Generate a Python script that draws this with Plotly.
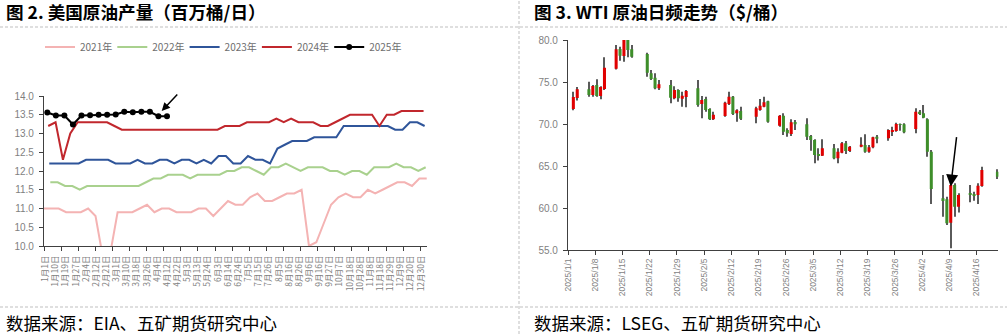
import numpy as np
import pandas as pd
import plotly.graph_objects as go

W, H = 1007, 334

# ---------------- 美国原油周度产量（百万桶/日） ----------------
week_labels = ["1月1日", "1月10日", "1月19日", "1月27日", "2月4日", "2月12日", "2月21日",
               "3月1日", "3月10日", "3月18日", "3月26日", "4月4日", "4月12日", "4月22日",
               "5月3日", "5月13日", "5月24日", "6月3日", "6月14日", "6月24日", "7月5日",
               "7月15日", "7月26日", "8月5日", "8月16日", "8月26日", "9月6日", "9月16日",
               "9月27日", "10月7日", "10月18日", "10月28日", "11月8日", "11月18日",
               "11月29日", "12月9日", "12月20日", "12月30日"]

prod_2021 = [11.0, 11.0, 11.0, 10.9, 10.9, 10.9, 11.0, 10.8, 9.7, 9.8, 10.9, 10.9, 10.9,
             11.0, 11.1, 10.9, 11.0, 11.0, 10.9, 10.9, 10.9, 11.0, 11.0, 10.8, 11.0, 11.2,
             11.1, 11.1, 11.3, 11.4, 11.2, 11.2, 11.3, 11.4, 11.4, 11.5, 10.0, 10.1, 10.6,
             11.1, 11.3, 11.4, 11.3, 11.3, 11.5, 11.4, 11.5, 11.6, 11.7, 11.7, 11.6, 11.8, 11.8]
prod_2022 = [11.7, 11.7, 11.6, 11.6, 11.5, 11.6, 11.6, 11.6, 11.6, 11.6, 11.6, 11.6, 11.6,
             11.7, 11.8, 11.8, 11.9, 11.9, 11.9, 11.8, 11.9, 11.9, 11.9, 11.9, 12.0, 12.0,
             12.1, 12.1, 12.0, 11.9, 12.1, 12.1, 12.2, 12.1, 12.0, 12.1, 12.1, 12.1, 12.0,
             12.0, 11.9, 12.0, 12.0, 11.9, 12.1, 12.1, 12.1, 12.2, 12.1, 12.1, 12.0, 12.1]
prod_2023 = [12.2, 12.2, 12.2, 12.2, 12.2, 12.3, 12.3, 12.3, 12.3, 12.2, 12.2, 12.2, 12.3,
             12.2, 12.2, 12.3, 12.3, 12.2, 12.3, 12.3, 12.2, 12.3, 12.2, 12.4, 12.4, 12.2,
             12.2, 12.4, 12.3, 12.3, 12.2, 12.6, 12.7, 12.8, 12.8, 12.8, 12.9, 12.9, 12.9,
             12.9, 13.2, 13.2, 13.2, 13.2, 13.2, 13.2, 13.2, 13.1, 13.1, 13.3, 13.3, 13.2]
prod_2024 = [13.2, 13.3, 12.3, 13.0, 13.3, 13.3, 13.3, 13.3, 13.3, 13.2, 13.1, 13.1, 13.1,
             13.1, 13.1, 13.1, 13.1, 13.1, 13.1, 13.1, 13.1, 13.1, 13.1, 13.1, 13.2, 13.2,
             13.2, 13.3, 13.3, 13.3, 13.3, 13.4, 13.3, 13.4, 13.3, 13.3, 13.3, 13.2, 13.2,
             13.3, 13.4, 13.5, 13.5, 13.5, 13.5, 13.2, 13.5, 13.5, 13.6, 13.6, 13.6, 13.6]
prod_2025 = [13.56, 13.48, 13.48, 13.24, 13.48, 13.49, 13.50, 13.50, 13.51, 13.58, 13.57,
             13.58, 13.58, 13.46, 13.46]

past_years = ["2021年", "2022年", "2023年", "2024年"]
past_first_week = ["2021-01-01", "2022-01-07", "2023-01-06", "2024-01-05"]
past_values = [prod_2021, prod_2022, prod_2023, prod_2024]
past_colors = ["#F4B3B3", "#A9D18E", "#2F559A", "#C1272D"]

# ---------------- WTI 日K（美元/桶） ----------------
wti_dates = ["2025-01-02", "2025-01-03", "2025-01-06", "2025-01-07", "2025-01-08", "2025-01-09",
             "2025-01-10", "2025-01-13", "2025-01-14", "2025-01-15", "2025-01-16", "2025-01-17",
             "2025-01-21", "2025-01-22", "2025-01-23", "2025-01-24", "2025-01-27", "2025-01-28",
             "2025-01-29", "2025-01-30", "2025-01-31", "2025-02-03", "2025-02-04", "2025-02-05",
             "2025-02-06", "2025-02-07", "2025-02-10", "2025-02-11", "2025-02-12", "2025-02-13",
             "2025-02-14", "2025-02-18", "2025-02-19", "2025-02-20", "2025-02-21", "2025-02-24",
             "2025-02-25", "2025-02-26", "2025-02-27", "2025-02-28", "2025-03-03", "2025-03-04",
             "2025-03-05", "2025-03-06", "2025-03-07", "2025-03-10", "2025-03-11", "2025-03-12",
             "2025-03-13", "2025-03-14", "2025-03-17", "2025-03-18", "2025-03-19", "2025-03-20",
             "2025-03-21", "2025-03-24", "2025-03-25", "2025-03-26", "2025-03-27", "2025-03-28",
             "2025-03-31", "2025-04-01", "2025-04-02", "2025-04-03", "2025-04-04", "2025-04-07",
             "2025-04-08", "2025-04-09", "2025-04-10", "2025-04-11", "2025-04-14", "2025-04-15",
             "2025-04-16", "2025-04-17", "2025-04-21"]
wti_open = [71.80, 73.10, 74.13, 73.45, 74.64, 73.33, 74.17, 76.59, 78.93, 78.10, 80.08, 78.89,
            78.33, 76.03, 75.52, 74.25, 74.64, 73.06, 74.05, 73.02, 73.21, 74.25, 72.38, 72.98,
            71.79, 70.56, 70.95, 72.38, 73.25, 71.27, 71.55, 70.87, 71.67, 72.06, 72.70, 69.80,
            70.99, 69.29, 68.81, 70.24, 69.96, 68.57, 68.10, 66.43, 66.23, 67.10, 65.91, 66.59,
            67.70, 66.79, 67.30, 67.50, 66.71, 67.22, 68.49, 68.29, 69.09, 69.17, 70.00, 69.96,
            69.40, 71.47, 71.27, 70.56, 66.71, 61.15, 61.03, 58.25, 62.74, 60.16, 61.75, 61.67,
            61.55, 62.62, 64.33]
wti_high = [73.85, 74.40, 75.04, 74.64, 75.32, 74.50, 77.94, 79.40, 79.20, 80.60, 80.50, 79.40,
            78.49, 76.43, 76.03, 75.24, 75.24, 74.48, 74.13, 73.85, 74.05, 75.24, 73.33, 73.25,
            71.87, 71.47, 72.66, 73.85, 73.33, 71.75, 72.06, 72.06, 72.98, 73.25, 72.78, 71.07,
            71.27, 69.48, 70.56, 70.48, 70.67, 68.69, 68.17, 67.10, 68.17, 67.62, 67.10, 67.86,
            67.98, 67.38, 68.41, 68.77, 67.50, 68.49, 68.69, 69.37, 69.68, 70.16, 70.05, 70.08,
            71.87, 71.67, 72.26, 70.67, 66.90, 63.93, 61.35, 62.80, 62.94, 61.75, 62.74, 61.94,
            62.94, 64.92, 64.60]
wti_low = [71.65, 72.80, 73.25, 73.25, 73.25, 72.94, 74.05, 76.50, 77.54, 77.40, 77.94, 77.90,
           75.63, 75.24, 74.13, 74.05, 72.46, 72.94, 72.66, 72.06, 71.98, 72.06, 70.67, 71.47,
           70.48, 70.48, 70.87, 72.26, 71.07, 70.28, 70.48, 70.08, 71.59, 71.98, 70.16, 69.68,
           68.69, 68.49, 68.57, 69.29, 68.10, 66.82, 65.32, 65.64, 66.19, 65.80, 65.32, 66.51,
           66.43, 66.67, 67.22, 66.59, 66.59, 67.10, 67.70, 68.02, 68.57, 69.09, 69.20, 68.89,
           68.89, 71.07, 70.67, 66.11, 60.48, 58.97, 57.98, 55.20, 58.97, 59.45, 60.67, 60.87,
           60.48, 62.54, 63.45]
wti_close = [73.20, 74.15, 73.45, 74.52, 73.33, 74.40, 76.70, 78.89, 78.13, 80.08, 78.81, 78.02,
             76.11, 75.36, 74.25, 74.72, 73.13, 74.05, 73.06, 73.37, 73.93, 72.26, 72.86, 71.67,
             70.56, 71.11, 72.54, 73.25, 71.19, 71.63, 70.63, 71.87, 72.18, 72.58, 70.28, 70.99,
             69.09, 68.89, 70.20, 69.96, 68.49, 68.10, 66.31, 66.19, 67.10, 65.91, 66.71, 67.70,
             66.79, 67.30, 67.54, 66.71, 67.22, 68.41, 68.25, 69.29, 69.29, 70.00, 69.90, 69.01,
             71.47, 71.19, 70.75, 66.71, 62.26, 60.95, 58.17, 62.74, 60.16, 61.55, 61.63, 61.47,
             62.66, 64.52, 63.73]
wti_ticks = pd.date_range("2025-01-01", "2025-04-16", freq="7D")

UP_RED = "#E00000"
DOWN_GREEN = "#3E8E2A"
WICK = "#5A5A5A"
AXIS = "#404040"
TICK_TXT = "#7F7F7F"
CJK = "Noto Sans CJK SC"
DAY_MS = 86400000

fig = go.Figure()

# ---- left panel: weekly production by year ----
for name, first, vals, color in zip(past_years, past_first_week, past_values, past_colors):
    start = pd.Timestamp(first)
    weeks = (start.dayofyear - 1) / 7 + np.arange(len(vals))
    fig.add_trace(go.Scatter(x=weeks, y=vals, mode="lines", name=name,
                             line=dict(color=color, width=2), xaxis="x", yaxis="y"))

fig.add_trace(go.Scatter(x=np.arange(len(prod_2025)), y=prod_2025, mode="lines+markers",
                         name="2025年", line=dict(color="#000000", width=2),
                         marker=dict(size=6, color="#000000"), xaxis="x2", yaxis="y"))

# ---- right panel: WTI daily candles (wick bar under body bar) ----
t = pd.to_datetime(wti_dates) + pd.Timedelta(hours=9)
o, hi, lo, c = (np.array(a) for a in (wti_open, wti_high, wti_low, wti_close))
rising = c >= o
fig.add_trace(go.Bar(x=t, y=hi - lo, base=lo, width=0.27 * DAY_MS,
                     marker=dict(color=WICK, line=dict(width=0)),
                     xaxis="x3", yaxis="y3", showlegend=False, hoverinfo="skip"))
fig.add_trace(go.Bar(x=t, y=np.maximum(np.abs(c - o), 0.06), base=np.minimum(o, c),
                     width=0.78 * DAY_MS,
                     marker=dict(color=np.where(rising, UP_RED, DOWN_GREEN).tolist(),
                                 line=dict(width=0)),
                     xaxis="x3", yaxis="y3", showlegend=False))

# week-axis geometry (left panel): 7.36 px per week, plot area 383 px wide
px_per_week = 7.36
week_span = 383 / px_per_week
label_pos = np.linspace(0.18, 51.2, len(week_labels))
mark_pos = np.arange(23) * (17.1 / px_per_week)

left_dom = [44 / W, 427 / W]
fig.update_layout(
    width=W, height=H, margin=dict(l=0, r=0, t=0, b=0),
    paper_bgcolor="white", plot_bgcolor="white",
    font=dict(family=CJK, color="#595959"),
    barmode="overlay",
    showlegend=True,
    legend=dict(orientation="h", x=40 / W, xanchor="left", y=1 - 47 / H, yanchor="middle",
                font=dict(size=10, color="#6E6E6E", family=CJK), itemwidth=30,
                entrywidth=27.3, entrywidthmode="pixels", bgcolor="rgba(0,0,0,0)",
                tracegroupgap=0),
    xaxis=dict(domain=left_dom, range=[0, week_span], anchor="y", showline=True,
               linecolor=AXIS, linewidth=1.2, tickmode="array", tickvals=label_pos,
               ticktext=week_labels, ticks="", tickangle=-90, ticklabelstandoff=5,
               tickfont=dict(size=8.5, color=TICK_TXT, family=CJK),
               minor=dict(tickmode="array", tickvals=mark_pos, ticks="outside", ticklen=4,
                          tickwidth=1, tickcolor=AXIS, showgrid=False),
               showgrid=False, zeroline=False, automargin=False, fixedrange=True),
    xaxis2=dict(overlaying="x", range=[(44 - 47.3) / 8.55, (427 - 47.3) / 8.55], anchor="y",
                visible=False, automargin=False),
    yaxis=dict(domain=[(H - 246) / H, (H - 96) / H], range=[10, 14], anchor="x",
               tick0=10, dtick=0.5, tickformat=".1f", ticks="outside", ticklen=4,
               tickcolor=AXIS, showline=True, linecolor=AXIS, linewidth=1.2,
               tickfont=dict(size=10, color=TICK_TXT, family="Liberation Sans"),
               ticklabelstandoff=3, showgrid=False, zeroline=False, automargin=False),
    xaxis3=dict(type="date", domain=[568 / W, 998.4 / W],
                range=["2025-01-01", "2025-04-21 15:00"], anchor="y3", tickmode="array",
                tickvals=wti_ticks, ticktext=[f"{d.year}/{d.month}/{d.day}" for d in wti_ticks],
                ticks="outside", ticklen=4, tickcolor=AXIS, tickangle=-90, showline=True,
                linecolor=AXIS, linewidth=1.2,
                tickfont=dict(size=8.5, color=TICK_TXT, family="Liberation Sans"),
                showgrid=False, zeroline=False, automargin=False),
    yaxis3=dict(domain=[(H - 250) / H, (H - 40) / H], range=[55, 80], anchor="x3",
                tick0=55, dtick=5, tickformat=".1f", ticks="outside", ticklen=4,
                tickcolor=AXIS, showline=True, linecolor=AXIS, linewidth=1.2,
                tickfont=dict(size=10, color=TICK_TXT, family="Liberation Sans"),
                ticklabelstandoff=3, showgrid=False, zeroline=False, automargin=False),
)

# titles and source notes
texts = [
    ("<b>图 2. 美国原油产量（百万桶/日）</b>", 4, 12, 17.6),
    ("<b>图 3. WTI 原油日频走势（$/桶）</b>", 532, 12, 17.6),
    ("数据来源：EIA、五矿期货研究中心", 4, 322, 17.5),
    ("数据来源：LSEG、五矿期货研究中心", 532, 322, 17.5),
]
for txt, x0, y0, size in texts:
    fig.add_annotation(text=txt, xref="paper", yref="paper", x=x0 / W, y=1 - y0 / H,
                       xanchor="left", yanchor="middle", showarrow=False,
                       font=dict(size=size, color="#000000", family=CJK))

# separators
dash_style = dict(color="#BFBFBF", width=1, dash="3px,2px")
fig.add_shape(type="line", xref="paper", yref="paper", x0=0, x1=1, y0=1 - 27 / H, y1=1 - 27 / H,
              line=dash_style)
fig.add_shape(type="line", xref="paper", yref="paper", x0=0, x1=1, y0=1 - 307 / H,
              y1=1 - 307 / H, line=dash_style)
fig.add_shape(type="line", xref="paper", yref="paper", x0=519 / W, x1=519 / W, y0=0, y1=1,
              line=dash_style)

# pointers to the latest production print and the April low
fig.add_annotation(xref="x2", yref="y", x=13.38, y=13.6, ax=17, ay=-18, text="",
                   showarrow=True, arrowhead=2, arrowsize=1.1, arrowwidth=1.5,
                   arrowcolor="#000000")
fig.add_annotation(xref="x3", yref="y3", x="2025-04-09 09:00", y=62.55, ax=6, ay=-51, text="",
                   showarrow=True, arrowhead=2, arrowsize=1.6, arrowwidth=1.5,
                   arrowcolor="#000000")

fig.write_html("out.html")
